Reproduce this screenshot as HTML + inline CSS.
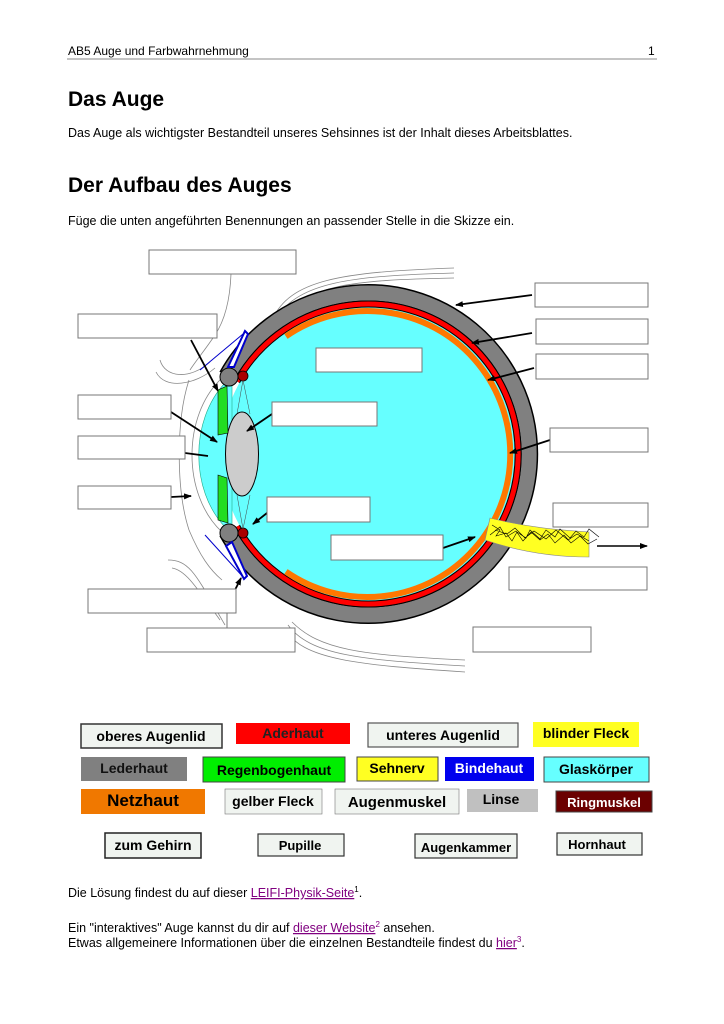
<!DOCTYPE html>
<html><head><meta charset="utf-8"><style>
html,body{margin:0;padding:0;background:#fff}
svg{display:block}
text{font-family:"Liberation Sans",sans-serif}
</style></head><body>
<svg width="724" height="1024" viewBox="0 0 724 1024" xmlns="http://www.w3.org/2000/svg">
<defs><marker id="a" markerWidth="8" markerHeight="8" refX="7" refY="4" orient="auto" markerUnits="userSpaceOnUse"><path d="M0,1 L8,4 L0,7z" fill="#000"/></marker></defs>
<text x="68" y="55" font-size="12">AB5 Auge und Farbwahrnehmung</text>
<text x="648" y="55" font-size="12">1</text>
<line x1="67" y1="59" x2="657" y2="59" stroke="#888" stroke-width="1"/>
<text x="68" y="106" font-size="21" font-weight="bold">Das Auge</text>
<text x="68" y="137" font-size="12.5">Das Auge als wichtigster Bestandteil unseres Sehsinnes ist der Inhalt dieses Arbeitsblattes.</text>
<text x="68" y="192" font-size="21" font-weight="bold">Der Aufbau des Auges</text>
<text x="68" y="225" font-size="12.5">Füge die unten angeführten Benennungen an passender Stelle in die Skizze ein.</text>

<!-- thin lid lines -->
<g fill="none" stroke="#888" stroke-width="0.8">
<path d="M272,320 C290,280 340,272 454,268"/><path d="M276,318 C300,282 350,276 454,273"/><path d="M280,318 C310,285 350,280 454,278"/>
<path d="M285,628 C300,660 360,665 465,672"/><path d="M288,625 C310,655 360,660 465,666"/><path d="M292,622 C320,650 360,655 465,660"/>
<path d="M231,274 C230,300 225,320 215,335 C205,350 195,362 190,370"/>
<path d="M160,360 C165,378 190,380 210,362"/>
<path d="M156,372 C165,390 195,385 215,368"/>
<path d="M189,380 C176,420 176,490 189,530 C200,556 210,570 222,580"/>
<path d="M168,560 C190,560 196,575 225,625"/>
<path d="M172,568 C185,570 195,585 220,620"/>
</g>
<!-- eye layers -->
<circle cx="368" cy="454" r="147" fill="#66ffff"/>
<path d="M227.3,376.1 A161,161 0 1 1 227.3,531.9" fill="none" stroke="#000" stroke-width="18"/>
<path d="M227.3,376.1 A161,161 0 1 1 227.3,531.9" fill="none" stroke="#808080" stroke-width="15"/>
<path d="M236.9,381.4 A150,150 0 1 1 236.9,526.6" fill="none" stroke="#000" stroke-width="7"/>
<path d="M236.9,381.4 A150,150 0 1 1 236.9,526.6" fill="none" stroke="#ff0000" stroke-width="5"/>
<path d="M285.9,336.4 A143,143 0 1 1 285.9,571.6" fill="none" stroke="#ff7700" stroke-width="6"/>
<!-- front chamber -->
<path d="M225,383 C190,420 190,490 225,527 L232,527 L232,383z" fill="#66ffff" stroke="#2a8" stroke-width="0.6"/>
<path d="M222,378 C182,415 182,495 222,532" fill="none" stroke="#888" stroke-width="0.8"/>
<!-- knobs -->
<circle cx="229" cy="377" r="9" fill="#808080" stroke="#000"/>
<circle cx="229" cy="533" r="9" fill="#808080" stroke="#000"/>
<circle cx="243" cy="376" r="5" fill="#aa0000" stroke="#000" stroke-width="0.8"/>
<circle cx="243" cy="533" r="5" fill="#aa0000" stroke="#000" stroke-width="0.8"/>
<!-- zonule lines -->
<g stroke="#444" stroke-width="0.5"><line x1="243" y1="380" x2="237" y2="414"/><line x1="243" y1="380" x2="250" y2="414"/><line x1="243" y1="529" x2="237" y2="495"/><line x1="243" y1="529" x2="250" y2="495"/></g>
<!-- lens -->
<ellipse cx="242" cy="454" rx="16.5" ry="42" fill="#cccccc" stroke="#000" stroke-width="1"/>
<!-- iris -->
<path d="M218,390 L227,386 L228,433 L218,435z" fill="#22dd22" stroke="#000" stroke-width="0.6"/>
<path d="M218,475 L227,478 L228,523 L218,520z" fill="#22dd22" stroke="#000" stroke-width="0.6"/>
<!-- eyelids blue -->
<path d="M228,367 L245,331 L248,334 L234,367z" fill="#fff" stroke="#0000cc" stroke-width="2"/>
<line x1="200" y1="370" x2="243" y2="334" stroke="#0000cc" stroke-width="1"/>
<path d="M232,542 L247,576 L244,579 L226,546z" fill="#fff" stroke="#0000cc" stroke-width="2"/>
<line x1="205" y1="535" x2="244" y2="578" stroke="#0000cc" stroke-width="1"/>
<!-- nerve -->
<path d="M490,518 C530,528 560,530 589,532 L589,557 C555,557 520,552 485,540z" fill="#ffff22" stroke="#888" stroke-width="0.6"/>
<path d="M492,525 l8,5 l-4,6 l10,-3 l6,8 l5,-9 l9,6 l4,-8 l10,9 l6,-9 l9,7 l5,-8 l10,9 l6,-7 l8,6 l5,-8 l10,8 M490,535 l10,-8 l6,10 l10,-6 l7,10 l8,-9 l9,8 l8,-6 l7,9 l9,-8 l7,8 l9,-7 l8,8 l9,-5 M495,530 l12,4 l8,-6 l10,10 l9,-7 l12,8 l10,-9 l12,10 l9,-6 l12,7" fill="none" stroke="#000" stroke-width="0.6"/>
<line x1="597" y1="546" x2="647" y2="546" stroke="#000" stroke-width="1.5" marker-end="url(#a)"/>
<!-- arrows -->
<g stroke="#000" stroke-width="1.8" marker-end="url(#a)">
<line x1="532" y1="295" x2="456" y2="305"/>
<line x1="532" y1="333" x2="472" y2="343"/>
<line x1="534" y1="368" x2="488" y2="380"/>
<line x1="550" y1="440" x2="510" y2="453"/>
<line x1="443" y1="548" x2="475" y2="537"/>
<line x1="272" y1="414" x2="247" y2="431"/>
<line x1="267" y1="513" x2="253" y2="524"/>
<line x1="191" y1="340" x2="218" y2="391"/>
<line x1="171" y1="412" x2="217" y2="442"/>
<line x1="171" y1="497" x2="191" y2="496"/>
<line x1="235" y1="590" x2="241" y2="578"/>
</g>
<line x1="185" y1="453" x2="208" y2="456" stroke="#000" stroke-width="1.8"/>
<line x1="227" y1="613" x2="227" y2="628" stroke="#555" stroke-width="0.8"/>
<!-- blank boxes -->
<g fill="#fff" stroke="#777" stroke-width="1">
<rect x="149" y="250" width="147" height="24"/>
<rect x="78" y="314" width="139" height="24"/>
<rect x="78" y="395" width="93" height="24"/>
<rect x="78" y="436" width="107" height="23"/>
<rect x="78" y="486" width="93" height="23"/>
<rect x="88" y="589" width="148" height="24"/>
<rect x="147" y="628" width="148" height="24"/>
<rect x="316" y="348" width="106" height="24"/>
<rect x="272" y="402" width="105" height="24"/>
<rect x="267" y="497" width="103" height="25"/>
<rect x="331" y="535" width="112" height="25"/>
<rect x="535" y="283" width="113" height="24"/>
<rect x="536" y="319" width="112" height="25"/>
<rect x="536" y="354" width="112" height="25"/>
<rect x="550" y="428" width="98" height="24"/>
<rect x="553" y="503" width="95" height="24"/>
<rect x="509" y="567" width="138" height="23"/>
<rect x="473" y="627" width="118" height="25"/>
</g>
<!-- label boxes -->
<g font-size="14" font-weight="bold" text-anchor="middle">
<rect x="81" y="724" width="141" height="24" fill="#f0f4f0" stroke="#333" stroke-width="1.5"/><text x="151" y="741">oberes Augenlid</text>
<rect x="236" y="723" width="114" height="21" fill="#ff0000"/><text x="293" y="738" fill="#222">Aderhaut</text>
<rect x="368" y="723" width="150" height="24" fill="#f0f4f0" stroke="#555" stroke-width="1.2"/><text x="443" y="740">unteres Augenlid</text>
<rect x="533" y="722" width="106" height="25" fill="#ffff22"/><text x="586" y="738">blinder Fleck</text>
<rect x="81" y="757" width="106" height="24" fill="#808080"/><text x="134" y="773" fill="#111">Lederhaut</text>
<rect x="203" y="757" width="142" height="25" fill="#00ee00" stroke="#444"/><text x="274" y="775">Regenbogenhaut</text>
<rect x="357" y="757" width="81" height="24" fill="#ffff22" stroke="#444"/><text x="397" y="773">Sehnerv</text>
<rect x="445" y="757" width="89" height="24" fill="#0000ee"/><text x="489" y="773" fill="#fff">Bindehaut</text>
<rect x="544" y="757" width="105" height="25" fill="#66ffff" stroke="#444"/><text x="596" y="774">Glaskörper</text>
<rect x="81" y="789" width="124" height="25" fill="#f07800"/><text x="143" y="806" font-size="17">Netzhaut</text>
<rect x="225" y="789" width="97" height="25" fill="#f0f4f0" stroke="#777" stroke-width="0.6"/><text x="273" y="806">gelber Fleck</text>
<rect x="335" y="789" width="124" height="25" fill="#f0f4f0" stroke="#777" stroke-width="0.6"/><text x="397" y="807" font-size="15">Augenmuskel</text>
<rect x="467" y="789" width="71" height="23" fill="#c0c0c0"/><text x="501" y="804">Linse</text>
<rect x="556" y="791" width="96" height="21" fill="#6b0000" stroke="#444"/><text x="604" y="807" fill="#fff" font-size="13">Ringmuskel</text>
<rect x="105" y="833" width="96" height="25" fill="#f0f4f0" stroke="#222" stroke-width="1.5"/><text x="153" y="850">zum Gehirn</text>
<rect x="258" y="834" width="86" height="22" fill="#f0f4f0" stroke="#333" stroke-width="1.2"/><text x="300" y="850" font-size="13">Pupille</text>
<rect x="415" y="834" width="102" height="24" fill="#f0f4f0" stroke="#333" stroke-width="1.2"/><text x="466" y="852" font-size="13">Augenkammer</text>
<rect x="557" y="833" width="85" height="22" fill="#f0f4f0" stroke="#333" stroke-width="1.2"/><text x="597" y="849" font-size="13">Hornhaut</text>
</g>
<text x="68" y="897" font-size="12.5">Die Lösung findest du auf dieser <tspan fill="#800080" text-decoration="underline">LEIFI-Physik-Seite</tspan><tspan font-size="8" dy="-5">1</tspan><tspan dy="5">.</tspan></text>
<text x="68" y="932" font-size="12.5">Ein "interaktives" Auge kannst du dir auf <tspan fill="#800080" text-decoration="underline">dieser Website</tspan><tspan font-size="8" dy="-5" fill="#800080">2</tspan><tspan dy="5">  ansehen.</tspan></text>
<text x="68" y="947" font-size="12.5">Etwas allgemeinere Informationen über die einzelnen Bestandteile findest du <tspan fill="#800080" text-decoration="underline">hier</tspan><tspan font-size="8" dy="-5" fill="#800080">3</tspan><tspan dy="5">.</tspan></text>
</svg>
</body></html>
